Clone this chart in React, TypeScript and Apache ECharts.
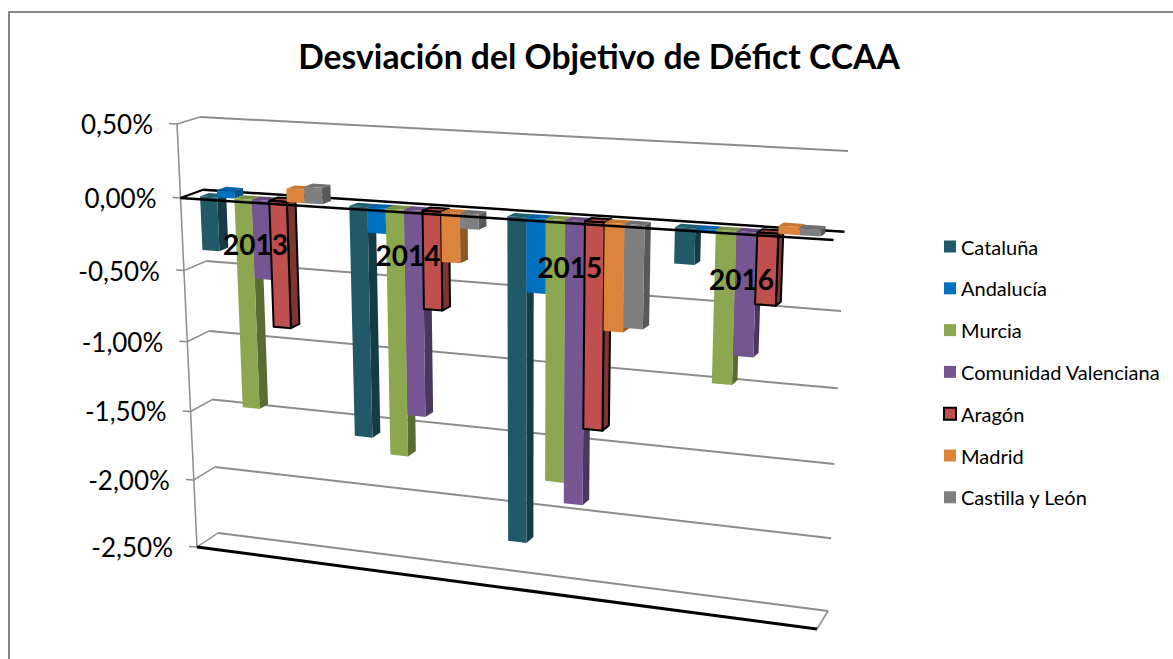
import React, { useEffect, useRef } from "react";
import * as echarts from "echarts";

const years = ["2013", "2014", "2015", "2016"];
const tickValues = [0.5, 0, -0.5, -1, -1.5, -2, -2.5];
const tickLabels = ["0,50%", "0,00%", "-0,50%", "-1,00%", "-1,50%", "-2,00%", "-2,50%"];

const names = ["Cataluña", "Andalucía", "Murcia", "Comunidad Valenciana", "Aragón", "Madrid", "Castilla y León"];
const cataluna = [-0.37, -1.58, -2.2, -0.23];
const andalucia = [0.05, -0.17, -0.49, -0.02];
const murcia = [-1.46, -1.685, -1.75, -0.98];
const valencia = [-0.54, -1.395, -1.89, -0.79];
const aragon = [-0.865, -0.655, -1.365, -0.45];
const madrid = [0.09, -0.33, -0.7, 0.05];
const castilla = [0.11, -0.1, -0.67, 0.045];
const seriesValues = [cataluna, andalucia, murcia, valencia, aragon, madrid, castilla];

const frontColors = ["#215968", "#0070C0", "#8CA750", "#755692", "#C0504D", "#DD843C", "#7F7F7F"];
const sideColors = ["#153B45", "#00528C", "#5A6B33", "#4A3760", "#7F3533", "#8F5726", "#595959"];
const topColors = ["#1D6070", "#0062A8", "#7A9145", "#65497F", "#A6403E", "#C8772F", "#707070"];

type P = [number, number];
const backQuad: P[] = [[200, 117], [848, 151], [828, 611], [218, 533]];
const frontQuad: P[] = [[177, 124], [837, 157], [817, 629], [197, 547]];
const barFront = 0.3;
const barBack = 0.7;
const gap = 1.5;

function planeAt(d: number) {
  const q = frontQuad.map((p, i) => [p[0] + (backQuad[i][0] - p[0]) * d, p[1] + (backQuad[i][1] - p[1]) * d]);
  const [x0, y0] = q[0], [x1, y1] = q[1], [x2, y2] = q[2], [x3, y3] = q[3];
  const dx1 = x1 - x2, dx2 = x3 - x2, sx = x0 - x1 + x2 - x3;
  const dy1 = y1 - y2, dy2 = y3 - y2, sy = y0 - y1 + y2 - y3;
  const den = dx1 * dy2 - dx2 * dy1;
  const g = (sx * dy2 - dx2 * sy) / den;
  const h = (dx1 * sy - sx * dy1) / den;
  const a = x1 - x0 + g * x1, b = x3 - x0 + h * x3;
  const dd = y1 - y0 + g * y1, e = y3 - y0 + h * y3;
  return (u: number, v: number): P => {
    const w = g * u + h * v + 1;
    return [(a * u + b * v + x0) / w, (dd * u + e * v + y0) / w];
  };
}
const planes: Record<string, (u: number, v: number) => P> = {};
function project(u: number, v: number, d: number): P {
  const k = String(d);
  if (!planes[k]) planes[k] = planeAt(d);
  return planes[k](u, v);
}

export default function App() {
  const ref = useRef<HTMLDivElement>(null);
  useEffect(() => {
    document.body.style.margin = "0";
    document.body.style.overflow = "hidden";
    const chart = echarts.init(ref.current!, undefined, { renderer: "svg" });
    const grey = "#8C8C8C";

    const gridSeries = {
      type: "custom",
      name: "grid",
      silent: true,
      z: 1,
      clip: false,
      data: tickValues.map((t, i) => [0, t, i]),
      encode: { x: 0, y: 1 },
      renderItem: (_: any, api: any) => {
        const H = api.getHeight();
        const t = api.value(1), idx = api.value(2);
        const v = api.coord([0, t])[1] / H;
        const fl = project(0, v, 0), bl = project(0, v, 1), br = project(1, v, 1);
        const isZero = t === 0;
        const kids: any[] = [
          { type: "line", shape: { x1: fl[0] - 8, y1: fl[1] - 0.5, x2: fl[0], y2: fl[1] }, style: { stroke: grey, lineWidth: 1.5 } },
          { type: "text", style: { text: tickLabels[idx], x: fl[0] - 24, y: fl[1], align: "right", verticalAlign: "middle", fontFamily: "Lato", fontSize: 26, fill: "#000" } },
          { type: "line", shape: { x1: fl[0], y1: fl[1], x2: bl[0], y2: bl[1] }, style: { stroke: isZero ? "#000" : grey, lineWidth: isZero ? 2 : 1.5 } },
          { type: "line", shape: { x1: bl[0], y1: bl[1], x2: br[0], y2: br[1] }, style: { stroke: isZero ? "#000" : grey, lineWidth: isZero ? 2.5 : 2 } },
        ];
        if (idx === 0) {
          const bottom = api.coord([0, tickValues[tickValues.length - 1]])[1] / H;
          const fb = project(0, bottom, 0), fr = project(1, bottom, 0), brb = project(1, bottom, 1);
          kids.push({ type: "line", shape: { x1: fl[0], y1: fl[1], x2: fb[0], y2: fb[1] }, style: { stroke: grey, lineWidth: 1.5 } });
          kids.push({ type: "line", shape: { x1: brb[0], y1: brb[1], x2: fr[0], y2: fr[1] }, style: { stroke: grey, lineWidth: 1.5 } });
        }
        return { type: "group", children: kids };
      },
    };

    const barSeries = names.map((name, i) => ({
      type: "custom",
      name,
      silent: true,
      z: 2,
      clip: false,
      itemStyle: i === 4 ? { color: frontColors[i], borderColor: "#000", borderWidth: 2 } : { color: frontColors[i] },
      data: seriesValues[i].map((val, k) => [k, val]),
      encode: { x: 0, y: 1 },
      renderItem: (_: any, api: any) => {
        const W = api.getWidth(), H = api.getHeight();
        const k = api.value(0), val = api.value(1);
        const band = api.size([1, 0])[0];
        const [cx, yVal] = api.coord([k, val]);
        const yZero = api.coord([k, 0])[1];
        const left = cx - band / 2;
        const u0 = (left + (band * (gap / 2 + i)) / (7 + gap)) / W;
        const u1 = (left + (band * (gap / 2 + i + 1)) / (7 + gap)) / W;
        const vTop = Math.min(yVal, yZero) / H, vBot = Math.max(yVal, yZero) / H;
        const f = (u: number, v: number) => project(u, v, barFront);
        const b = (u: number, v: number) => project(u, v, barBack);
        const stroke = i === 4 ? { stroke: "#000", lineWidth: 2, lineJoin: "round" } : { stroke: null };
        const poly = (points: P[], fill: string) => ({ type: "polygon", shape: { points }, style: { fill, ...stroke } });
        return {
          type: "group",
          children: [
            poly([f(u1, vTop), b(u1, vTop), b(u1, vBot), f(u1, vBot)], sideColors[i]),
            poly([f(u0, vTop), f(u1, vTop), b(u1, vTop), b(u0, vTop)], topColors[i]),
            poly([f(u0, vTop), f(u1, vTop), f(u1, vBot), f(u0, vBot)], frontColors[i]),
          ],
        };
      },
    }));

    const frontSeries = {
      type: "custom",
      name: "front",
      silent: true,
      z: 3,
      clip: false,
      data: [[0, 0], [0, tickValues[tickValues.length - 1]]],
      encode: { x: 0, y: 1 },
      renderItem: (_: any, api: any) => {
        const H = api.getHeight();
        const t = api.value(1);
        const v = api.coord([0, t])[1] / H;
        const a = project(0, v, 0), c = project(1, v, 0);
        return { type: "line", shape: { x1: a[0], y1: a[1], x2: c[0], y2: c[1] }, style: { stroke: "#000", lineWidth: t === 0 ? 2.5 : 3 } };
      },
    };

    const yearSeries = {
      type: "custom",
      name: "years",
      silent: true,
      z: 4,
      clip: false,
      data: years.map((_, k) => [k, -0.28]),
      encode: { x: 0, y: 1 },
      renderItem: (_: any, api: any) => {
        const W = api.getWidth(), H = api.getHeight();
        const k = api.value(0);
        const [cx, y] = api.coord([k, api.value(1)]);
        const band = api.size([1, 0])[0];
        const u = (cx - band / 2 + (band * (gap / 2 + 3.5)) / (7 + gap)) / W;
        const p = project(u, y / H, 0);
        return { type: "text", style: { text: years[k], x: p[0], y: p[1], align: "center", verticalAlign: "middle", fontFamily: "Lato", fontWeight: "bold", fontSize: 28, fill: "#000" } };
      },
    };

    chart.setOption({
      animation: false,
      backgroundColor: "#fff",
      title: {
        text: "Desviación del Objetivo de Défict CCAA",
        left: 594,
        top: 34,
        textAlign: "center",
        textStyle: { fontFamily: "Lato", fontWeight: "bold", fontSize: 33.7, color: "#000" },
      },
      grid: { left: 0, right: 0, top: 0, bottom: 0, containLabel: false },
      xAxis: { type: "category", data: years, show: false },
      yAxis: { type: "value", min: -2.5, max: 0.5, interval: 0.5, show: false },
      legend: {
        data: names.map((name) => ({ name, icon: "rect" })),
        orient: "vertical",
        left: 938,
        top: 231,
        itemWidth: 12,
        itemHeight: 12,
        itemGap: 20.8,
        selectedMode: false,
        textStyle: { fontFamily: "Lato", fontSize: 20, color: "#000", lineHeight: 21 },
      },
      graphic: [
        { type: "polyline", shape: { points: [[9, 659], [9, 12], [1173, 12]] }, style: { stroke: "#868686", lineWidth: 2, fill: null } },
      ],
      series: [gridSeries, ...barSeries, frontSeries, yearSeries],
    });
    return () => chart.dispose();
  }, []);
  return <div ref={ref} style={{ width: 1173, height: 659 }} />;
}
